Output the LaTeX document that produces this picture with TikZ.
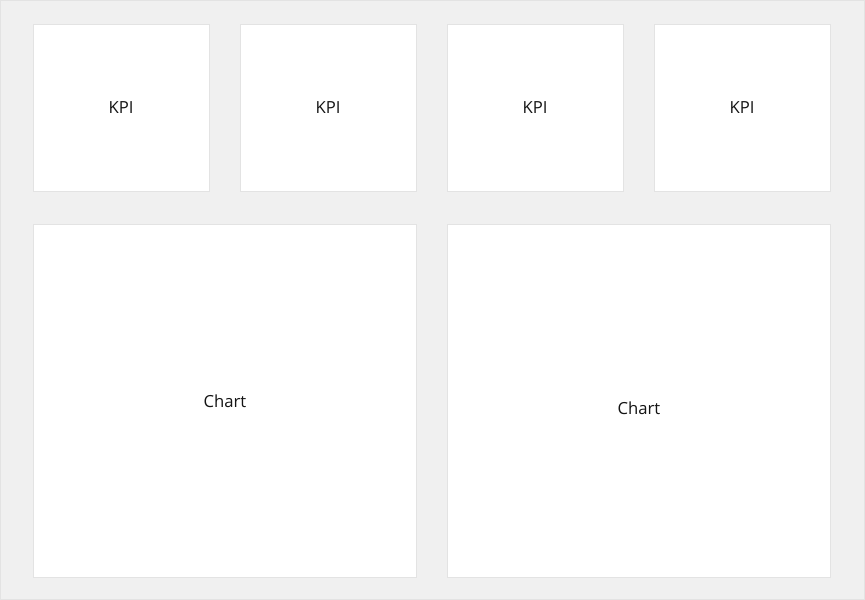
\documentclass[tikz,border=0pt]{standalone}
\usepackage{fontspec}
\setmainfont{Open Sans}
\usetikzlibrary{positioning}
\definecolor{pagegray}{HTML}{F0F0F0}
\definecolor{edgegray}{HTML}{E3E3E3}
\definecolor{inkgray}{HTML}{141414}

\def\ll{0.75pt}

\begin{document}
\begin{tikzpicture}[x=\ll,y=-\ll,
  card/.style={draw=edgegray,fill=white,line width=\ll,inner sep=0pt,
    text=inkgray,font=\fontsize{12.5}{14}\selectfont},
  kpi box/.style={card,minimum width=176*\ll,minimum height=167*\ll},
  chart box/.style={card,minimum width=383*\ll,minimum height=353*\ll}]
\draw[fill=pagegray,draw=edgegray,line width=\ll] (0.5,0.5) rectangle (864.5,599.5);
\useasboundingbox (0,0) rectangle (865,600);
% top row
\node[kpi box] (kpi1) at (121,107.5) {KPI};
\node[kpi box,right=30*\ll of kpi1] (kpi2) {KPI};
\node[kpi box,right=30*\ll of kpi2] (kpi3) {KPI};
\node[kpi box,right=30*\ll of kpi3] (kpi4) {KPI};
% bottom row
\node[chart box,anchor=north west] (chart1) at (33,224) {Chart};
\node[chart box,anchor=north west] (chart2) at (447,224) {};
\node[text=inkgray,font=\fontsize{12.5}{14}\selectfont] (chart2 text) at ([yshift=-5.6pt]chart2.center) {Chart};
\end{tikzpicture}
\end{document}
